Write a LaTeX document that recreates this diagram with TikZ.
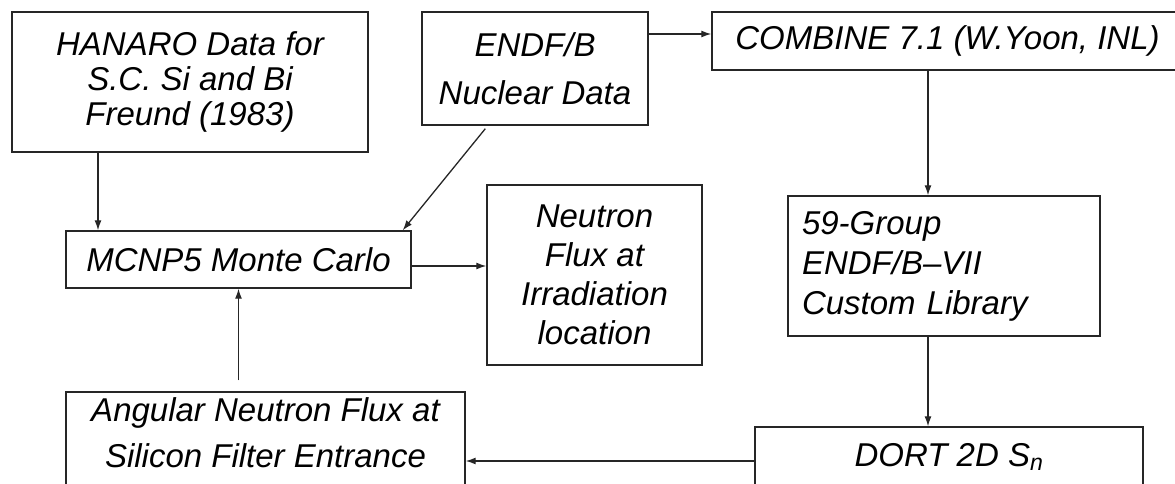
\documentclass[tikz,border=0pt]{standalone}
\usepackage{fontspec}
\setmainfont{Liberation Sans}
\usetikzlibrary{arrows.meta}

\tikzset{
  blk/.style={draw=black!85, line width=1.4pt, inner sep=0pt, align=center,
    font=\fontsize{33}{40}\selectfont\itshape},
  arr/.style={draw=black!85, line width=1.3pt, -{Latex[length=10pt,width=7pt]}}
}

\begin{document}
\begin{tikzpicture}[x=1pt,y=-1pt]
	\useasboundingbox (0,0) rectangle (1175,484);
	\clip (0,0) rectangle (1175,484);
	\node[blk, minimum width=356pt, minimum height=140pt, font=\fontsize{33}{35}\selectfont\itshape] (hanaro) at (190,82) {HANARO Data for\\S.C. Si and Bi\\Freund (1983)};
	\node[blk, minimum width=226pt, minimum height=113pt, font=\fontsize{33}{48}\selectfont\itshape] (endf) at (535,68.5) {ENDF/B\\Nuclear Data};
	\node[blk, minimum width=471pt, minimum height=58pt] (combine) at (947.5,41) {COMBINE 7.1 (W.Yoon, INL)};
	\node[blk, minimum width=345pt, minimum height=57pt] (mcnp) at (238.5,259.5) {MCNP5 Monte Carlo};
	\node[blk, minimum width=215pt, minimum height=180pt, font=\fontsize{33}{39}\selectfont\itshape] (flux) at (594.5,275) {Neutron\\Flux at\\Irradiation\\location};
	\node[blk, align=left, text width=284pt, inner xsep=14pt, minimum height=140pt] (lib) at (944,266) {59-Group\\ENDF/B\textendash VII\\Custom Library};
	\node[blk, minimum width=388pt, minimum height=60pt] (dort) at (949,457) {DORT 2D S\textsubscript{n}};
	\node[blk, minimum width=399pt, minimum height=96pt, text depth=14pt, font=\fontsize{33}{46}\selectfont\itshape] (angular) at (265.5,440) {Angular Neutron Flux at\\Silicon Filter Entrance};
	\coordinate (hx) at (98,0);
	\coordinate (cx) at (928,0);
	\coordinate (ey) at (0,34);
	\coordinate (my) at (0,266);
	\coordinate (dy) at (0,461);
	\coordinate (afoot) at ([yshift=11pt]angular.north);
	\draw[arr] (hanaro.south -| hx) -- (mcnp.north -| hx);
	\draw[arr] ([xshift=64pt,yshift=-3pt]endf.south west) -- ([xshift=-9pt]mcnp.north east);
	\draw[arr] (endf.east |- ey) -- (combine.west |- ey);
	\draw[arr] (combine.south -| cx) -- (lib.north -| cx);
	\draw[arr] (lib.south -| cx) -- (dort.north -| cx);
	\draw[arr] (mcnp.east |- my) -- (flux.west |- my);
	\draw[arr] (dort.west |- dy) -- (angular.east |- dy);
	\draw[arr] (afoot -| mcnp.south) -- (mcnp.south);
\end{tikzpicture}
\end{document}
